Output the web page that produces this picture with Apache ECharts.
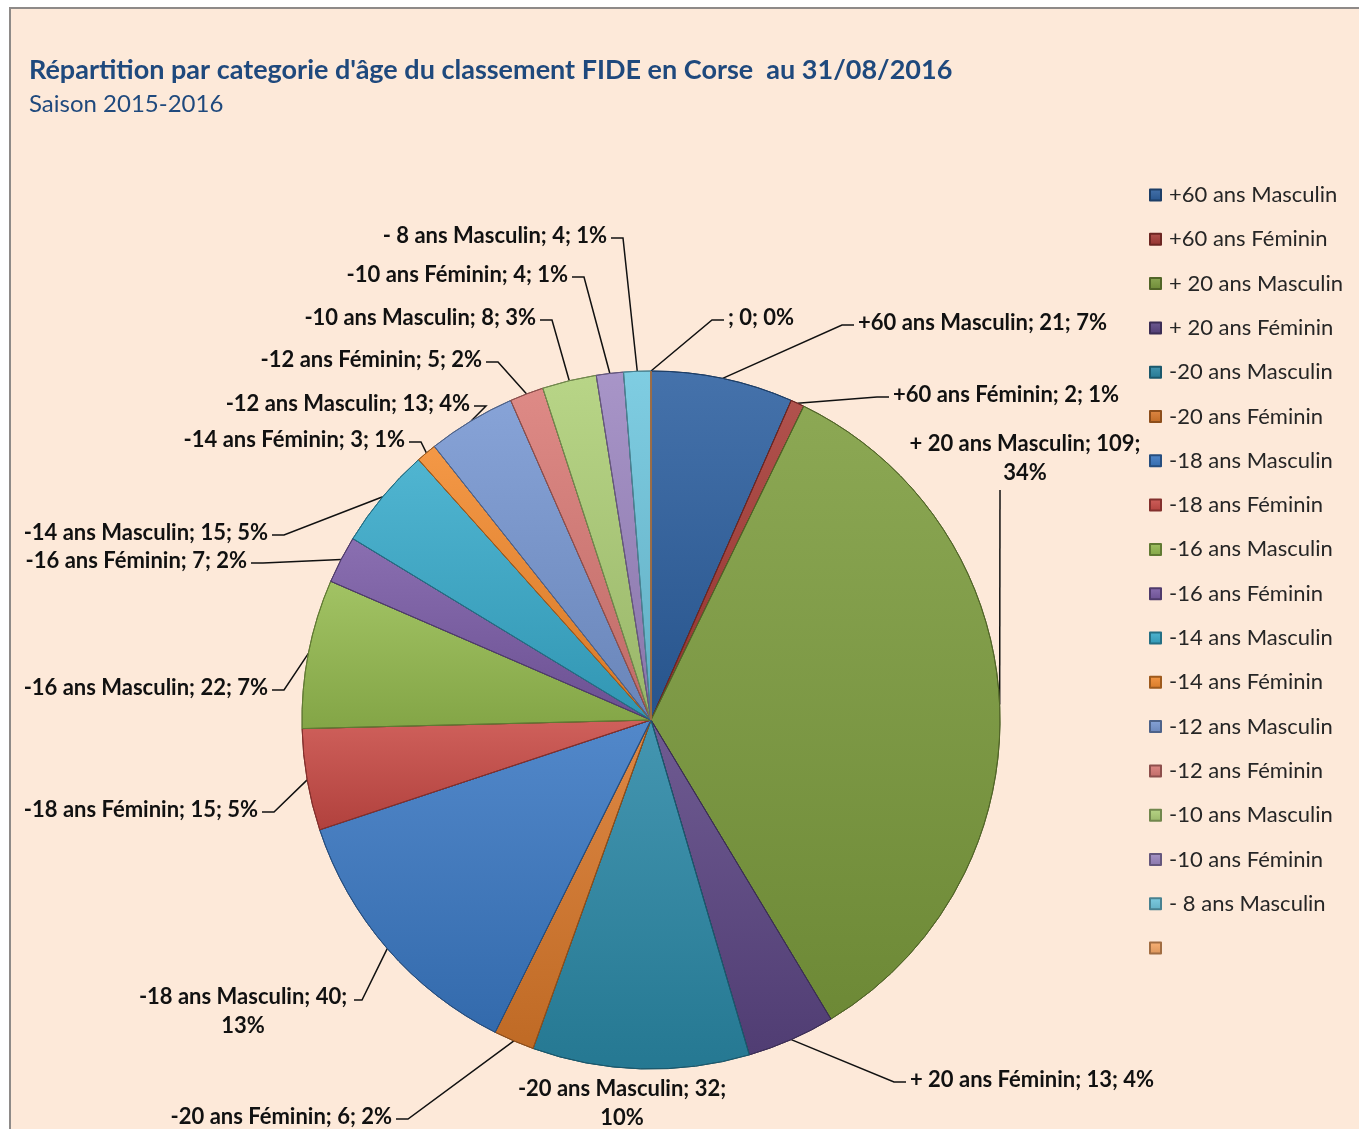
<!DOCTYPE html>
<html lang="fr">
<head>
    <meta charset="UTF-8">
    <title>Répartition par categorie d'âge</title>
    <script type="text/javascript" src="https://cdn.jsdelivr.net/npm/echarts@6/dist/echarts.min.js"></script>
    <style>
        body { margin: 0; background: #ffffff; }
    </style>
</head>
<body>
<div id="pie-age" style="width: 1359px;height: 1129px"></div>
<script type="text/javascript">
    // categories et effectifs (Excel : 18 points, le dernier vide)
    var categories = ['+60 ans Masculin', '+60 ans Féminin', '+ 20 ans Masculin', '+ 20 ans Féminin',
        '-20 ans Masculin', '-20 ans Féminin', '-18 ans Masculin', '-18 ans Féminin',
        '-16 ans Masculin', '-16 ans Féminin', '-14 ans Masculin', '-14 ans Féminin',
        '-12 ans Masculin', '-12 ans Féminin', '-10 ans Masculin', '-10 ans Féminin',
        '- 8 ans Masculin', ' ']
    var effectifs = [21, 2, 109, 13, 32, 6, 40, 15, 22, 7, 15, 3, 13, 5, 8, 4, 4, 0]

    // couleurs des parts
    var couleurs = ['#2c5f9f', '#a63a35', '#7c9c3d', '#5b4583', '#2a88a6', '#d9782a',
        '#3a78c3', '#c94a45', '#95bb4f', '#7a5ba6', '#38abcb', '#f38a2d',
        '#7797d2', '#d97a75', '#aecf77', '#9c86c1', '#6ec6de', '#f8a865']

    // placement des étiquettes : [x, y, align]  (repris à la main du modèle)
    var etiquettes = [
        [858, 323, 'left'], [893, 395, 'left'], [1025, 429, 'center'], [910, 1080, 'left'],
        [622, 1074, 'center'], [392, 1117, 'right'], [243, 982, 'center'], [258, 810, 'right'],
        [268, 688, 'right'], [247, 561, 'right'], [268, 533, 'right'], [405, 440, 'right'],
        [470, 404, 'right'], [482, 360, 'right'], [536, 318, 'right'], [568, 275, 'right'],
        [607, 236, 'right'], [728, 318, 'left']
    ]
    var deuxLignes = [2, 4, 6]

    var total = 0
    for (var i = 0; i < effectifs.length; i++) {
        total += effectifs[i]
    }

    function shade(hex, k) {
        var c = echarts.color.parse(hex)
        var f = function (v) {
            return Math.round(k >= 0 ? v + (255 - v) * k : v * (1 + k))
        }
        return 'rgb(' + f(c[0]) + ',' + f(c[1]) + ',' + f(c[2]) + ')'
    }

    var data = []
    for (var i = 0; i < categories.length; i++) {
        data.push({
            name: categories[i],
            value: effectifs[i],
            itemStyle: {
                color: new echarts.graphic.LinearGradient(0, 0, 0, 1, [
                    {offset: 0, color: shade(couleurs[i], 0.12)},
                    {offset: 1, color: shade(couleurs[i], -0.12)}
                ]),
                borderColor: shade(couleurs[i], -0.35)
            },
            labelLine: {show: i !== 4}
        })
    }

    var chartDom = document.getElementById('pie-age');
    var myChart = echarts.init(chartDom);
    var option = {
        backgroundColor: '#ffffff',
        color: couleurs,
        graphic: [{
            type: 'rect',
            z: -10,
            shape: {x: 10, y: 8, width: 1400, height: 1200},
            style: {fill: '#fde9d9', stroke: '#8e8a88', lineWidth: 2}
        }],
        title: [{
            text: "Répartition par categorie d'âge du classement FIDE en Corse  au 31/08/2016",
            left: 24,
            top: 52,
            textStyle: {fontFamily: 'Lato', fontSize: 27, fontWeight: 'bold', color: '#1f497d'}
        }, {
            text: 'Saison 2015-2016',
            left: 24,
            top: 87,
            textStyle: {fontFamily: 'Lato', fontSize: 24, fontWeight: 'normal', color: '#1f497d'}
        }],
        legend: {
            orient: 'vertical',
            left: 1149,
            top: 184,
            padding: 0,
            icon: 'rect',
            itemWidth: 11,
            itemHeight: 11,
            itemGap: 22.3,
            data: categories,
            textStyle: {fontFamily: 'Lato', fontSize: 22, color: '#262626', lineHeight: 22, padding: [0, 0, 0, 3]}
        },
        series: [{
            type: 'pie',
            center: [651, 720],
            radius: 349,
            startAngle: 90,
            clockwise: true,
            avoidLabelOverlap: false,
            data: data,
            label: {
                show: true,
                position: 'outside',
                fontFamily: 'Lato',
                fontSize: 22,
                fontWeight: 'bold',
                color: '#111111',
                lineHeight: 29,
                formatter: function (p) {
                    var pct = Math.round(p.value / total * 100)
                    var sep = deuxLignes.indexOf(p.dataIndex) >= 0 ? '\n' : ' '
                    return p.name.trim() + '; ' + p.value + ';' + sep + pct + '%'
                }
            },
            labelLine: {
                show: true,
                length: 20,
                length2: 10,
                lineStyle: {color: '#111111', width: 1.5}
            },
            labelLayout: function (params) {
                var e = etiquettes[params.dataIndex]
                var start = params.labelLinePoints ? params.labelLinePoints[0] : [e[0], e[1]]
                var pts
                if (e[2] === 'left') {
                    pts = [start, [e[0] - 16, e[1] + 2], [e[0] - 4, e[1] + 2]]
                } else if (e[2] === 'right') {
                    pts = [start, [e[0] + 16, e[1] + 2], [e[0] + 4, e[1] + 2]]
                } else if (params.dataIndex === 2) {
                    pts = [start, [1000, 490]]
                } else {
                    pts = [start, [362, 1000], [354, 1000]]
                }
                return {
                    x: e[0],
                    y: e[1],
                    align: e[2],
                    verticalAlign: e[2] === 'center' ? 'top' : 'middle',
                    labelLinePoints: pts
                }
            }
        }]
    };
    option && myChart.setOption(option);
</script>
</body>
</html>
